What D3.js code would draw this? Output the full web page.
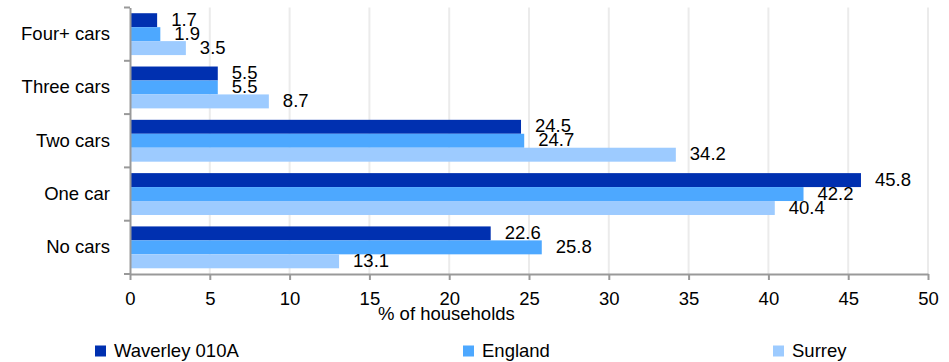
<!DOCTYPE html>
<html><head><meta charset="utf-8">
<script src="https://cdn.jsdelivr.net/npm/d3@7"></script>
<style>body{margin:0;background:#fff}svg{display:block}text{font-family:"Liberation Sans",Arial,sans-serif;fill:#000}</style>
</head><body><svg id="c" width="949" height="362"></svg>
<script>
const categories = ["Four+ cars","Three cars","Two cars","One car","No cars"];
const seriesNames = ["Waverley 010A","England","Surrey"];
const waverley = [1.7, 5.5, 24.5, 45.8, 22.6];
const england = [1.9, 5.5, 24.7, 42.2, 25.8];
const surrey = [3.5, 8.7, 34.2, 40.4, 13.1];
const xTicks = [0,5,10,15,20,25,30,35,40,45,50];
const colors = ["#0030b0","#4da8ff","#9dcbff"];
const xTitle = "% of households";

const series = [waverley, england, surrey];
const svg = d3.select("#c");
const fs = 18.5;
const x = d3.scaleLinear().domain([0,50]).range([130,928]);
const y = d3.scaleBand().domain(categories).range([7.5,274]);
const inner = d3.scaleBand().domain(d3.range(3)).range([0, y.bandwidth()]).paddingOuter(0.41);

// gridlines
svg.append("g").selectAll("line").data(xTicks.filter(d=>d>0)).join("line")
  .attr("x1",d=>x(d)).attr("x2",d=>x(d)).attr("y1",7.5).attr("y2",274)
  .attr("stroke","#ebebeb").attr("stroke-width",2);

// bars
categories.forEach((c,ci)=>{
  series.forEach((s,si)=>{
    svg.append("rect").attr("x",x(0)).attr("y",y(c)+inner(si))
      .attr("width",x(s[ci])-x(0)).attr("height",inner.bandwidth())
      .attr("fill",colors[si]);
    svg.append("text").attr("x",x(s[ci])+14).attr("y",y(c)+inner(si)+inner.bandwidth()/2+5.5)
      .attr("font-size",fs).text(s[ci].toFixed(1));
  });
});

// x axis
const xa = svg.append("g").attr("transform","translate(0,274)")
  .call(d3.axisBottom(x).tickValues(xTicks).tickSize(6).tickSizeOuter(0).tickPadding(12));
xa.select(".domain").attr("stroke","#999").attr("stroke-width",2);
xa.selectAll(".tick line").attr("stroke","#999").attr("stroke-width",2);
xa.selectAll(".tick text").attr("font-size",fs).attr("font-family","Liberation Sans, Arial, sans-serif").attr("fill","#000");

// y axis
const ya = svg.append("g").attr("transform","translate(130,0)")
  .call(d3.axisLeft(y).tickSize(0).tickPadding(20));
ya.select(".domain").attr("stroke","#999").attr("stroke-width",2);
ya.selectAll(".tick text").attr("font-size",fs).attr("font-family","Liberation Sans, Arial, sans-serif").attr("fill","#000");
// category boundary ticks
const bounds = categories.map(c=>y(c)).concat([274]);
svg.append("g").selectAll("line").data(bounds).join("line")
  .attr("x1",124).attr("x2",130).attr("y1",d=>d).attr("y2",d=>d)
  .attr("stroke","#999").attr("stroke-width",2);

// x title
svg.append("text").attr("x",378).attr("y",320).attr("font-size",fs).text(xTitle);

// legend
const legX = [95, 463, 773];
seriesNames.forEach((n,i)=>{
  svg.append("rect").attr("x",legX[i]).attr("y",345.5).attr("width",11).attr("height",11).attr("fill",colors[i]);
  svg.append("text").attr("x",legX[i]+19).attr("y",357).attr("font-size",fs).text(n);
});
</script></body></html>
